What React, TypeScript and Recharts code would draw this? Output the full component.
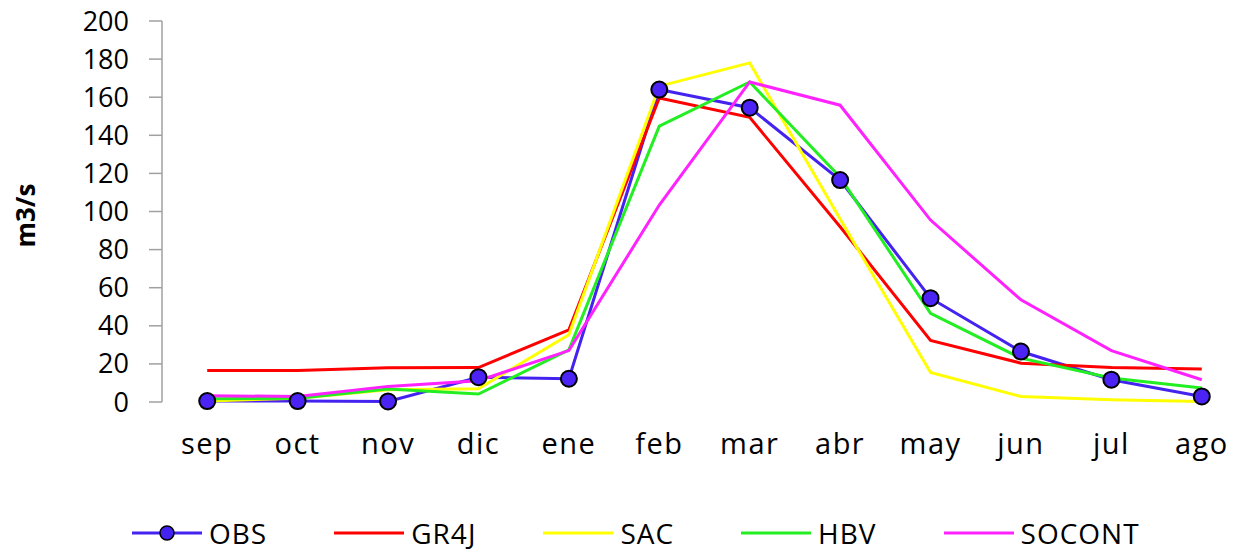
import React from 'react';
import { LineChart, Line, XAxis, YAxis, Legend } from 'recharts';

const months = ['sep', 'oct', 'nov', 'dic', 'ene', 'feb', 'mar', 'abr', 'may', 'jun', 'jul', 'ago'];
const OBS = [0.5, 0.5, 0.3, 13, 12.2, 164, 154.5, 116.5, 54.5, 26.5, 11.7, 2.9];
const GR4J = [16.6, 16.6, 18, 18.1, 37.9, 159.6, 149.4, 92, 32.3, 20.4, 18.1, 17.3];
const SAC = [0.5, 2, 6.4, 7, 35.3, 165.8, 178, 96, 15.5, 2.9, 1.2, 0.3];
const HBV = [1.7, 2, 6.8, 4.2, 27.4, 144.8, 168, 118, 46.6, 23, 12.6, 7.3];
const SOCONT = [3.3, 2.9, 8.2, 11.2, 27, 103.4, 168, 155.8, 95.5, 53.6, 27, 11.7];
const yTicks = [0, 20, 40, 60, 80, 100, 120, 140, 160, 180, 200];

const seriesInfo = [
  { key: 'OBS', color: '#4422F0', marker: true },
  { key: 'GR4J', color: '#FF0000', marker: false },
  { key: 'SAC', color: '#FFFF00', marker: false },
  { key: 'HBV', color: '#22EE22', marker: false },
  { key: 'SOCONT', color: '#FF22FF', marker: false },
];

const data = months.map((m, i) => ({
  i,
  name: m,
  OBS: OBS[i],
  GR4J: GR4J[i],
  SAC: SAC[i],
  HBV: HBV[i],
  SOCONT: SOCONT[i],
}));

const labelTicks = months.map((_, i) => i);
const sepTicks = [...months.map((_, i) => i - 0.5), months.length - 0.5];

const FONT = '"Open Sans", "DejaVu Sans", sans-serif';

const YLabel = (props: any) => {
  const vb = props.viewBox || { x: 0, y: 0, width: 0, height: 0 };
  const cx = vb.x + 25;
  const cy = vb.y + vb.height / 2 + 4;
  return (
    <text
      x={cx}
      y={cy}
      transform={`rotate(-90, ${cx}, ${cy})`}
      textAnchor="middle"
      dominantBaseline="central"
      style={{ fontFamily: FONT, fontWeight: 700, fontSize: 26, fill: '#000' }}
    >
      m3/s
    </text>
  );
};

const LegendContent = () => (
  <div
    style={{
      display: 'flex',
      alignItems: 'center',
      height: 30,
      paddingLeft: 131,
      gap: 66,
      fontFamily: FONT,
      fontSize: 28,
      letterSpacing: 1,
      color: '#000',
      whiteSpace: 'nowrap',
    }}
  >
    {seriesInfo.map((s) => (
      <div key={s.key} style={{ display: 'flex', alignItems: 'center' }}>
        <svg width={72} height={24} style={{ marginRight: 6 }}>
          <line x1={1} y1={12} x2={71} y2={12} stroke={s.color} strokeWidth={3} />
          {s.marker && <circle cx={36} cy={12} r={7} fill={s.color} stroke="#000" strokeWidth={1.5} />}
        </svg>
        <span style={{ lineHeight: '28px' }}>{s.key}</span>
      </div>
    ))}
  </div>
);

export default function App() {
  return (
    <div style={{ position: 'absolute', left: 0, top: 0, width: 1239, height: 552, overflow: 'hidden', background: '#fff' }}>
      <LineChart width={1260} height={552} data={data} margin={{ top: 21, right: 13, bottom: 0, left: 0 }}>
        <XAxis
          xAxisId={0}
          dataKey="i"
          type="number"
          domain={[-0.5, 11.5]}
          ticks={sepTicks}
          tick={false}
          tickSize={11}
          height={0}
          axisLine={{ stroke: '#A0A0A0', strokeWidth: 1.5 }}
          tickLine={{ stroke: '#A0A0A0', strokeWidth: 1.5 }}
          allowDataOverflow
        />
        <XAxis
          xAxisId="lab"
          dataKey="i"
          type="number"
          domain={[-0.5, 11.5]}
          ticks={labelTicks}
          interval={0}
          tickFormatter={(v: number) => months[v]}
          tickLine={false}
          axisLine={false}
          tickSize={0}
          tickMargin={31}
          height={120}
          tick={{ fontFamily: FONT, fontSize: 29, letterSpacing: 1.5, fill: '#000' }}
          allowDataOverflow
        />
        <YAxis
          domain={[0, 200]}
          ticks={yTicks}
          interval={0}
          width={162}
          tickSize={13}
          tickMargin={20}
          axisLine={{ stroke: '#A0A0A0', strokeWidth: 1.5 }}
          tickLine={{ stroke: '#A0A0A0', strokeWidth: 1.5 }}
          tick={{ fontFamily: FONT, fontSize: 27, fill: '#000' }}
          label={YLabel}
        />
        <Legend
          verticalAlign="bottom"
          content={LegendContent}
          wrapperStyle={{ left: 0, bottom: 4, width: 1239, height: 30 }}
        />
        {seriesInfo.map((s) => (
          <Line
            key={s.key}
            xAxisId={0}
            type="linear"
            dataKey={s.key}
            stroke={s.color}
            strokeWidth={3}
            dot={s.marker ? { r: 8, fill: '#4B24F5', stroke: '#000', strokeWidth: 2 } : false}
            activeDot={false}
            isAnimationActive={false}
          />
        ))}
      </LineChart>
    </div>
  );
}
